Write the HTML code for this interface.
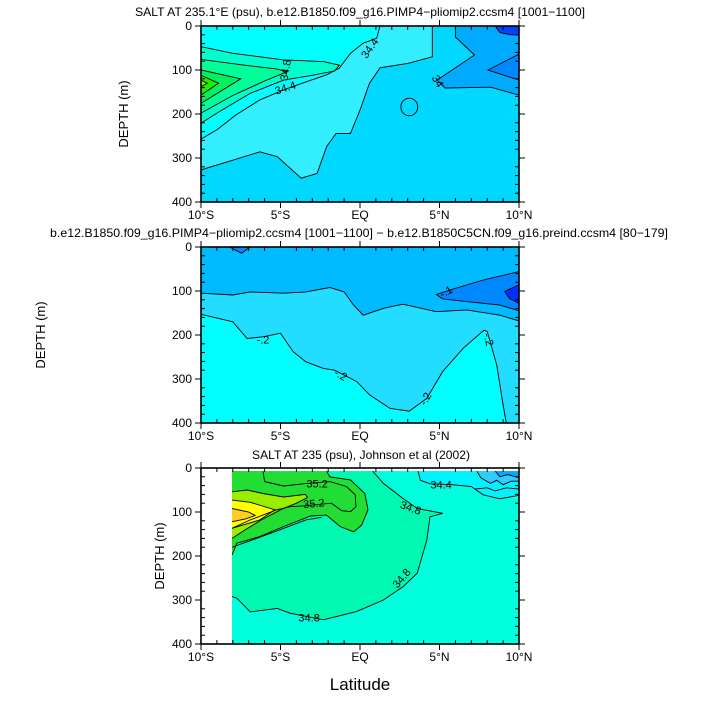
<!DOCTYPE html>
<html><head><meta charset="utf-8"><style>
html,body{margin:0;padding:0;background:#fff;}
svg{display:block;font-family:"Liberation Sans",sans-serif;}
</style></head><body>
<svg id="chart" width="701" height="701" viewBox="0 0 701 701">
<text x="360" y="16" text-anchor="middle" font-size="12" textLength="450" lengthAdjust="spacingAndGlyphs">SALT AT 235.1°E (psu), b.e12.B1850.f09_g16.PIMP4−pliomip2.ccsm4 [1001−1100]</text>
<text x="359" y="237" text-anchor="middle" font-size="12" textLength="618" lengthAdjust="spacingAndGlyphs">b.e12.B1850.f09_g16.PIMP4−pliomip2.ccsm4 [1001−1100] − b.e12.B1850C5CN.f09_g16.preind.ccsm4 [80−179]</text>
<text x="361" y="459" text-anchor="middle" font-size="12" textLength="218" lengthAdjust="spacingAndGlyphs">SALT AT 235 (psu), Johnson et al (2002)</text>
<text transform="translate(128,114) rotate(-90)" text-anchor="middle" font-size="13">DEPTH (m)</text>
<text transform="translate(45,335) rotate(-90)" text-anchor="middle" font-size="13">DEPTH (m)</text>
<text transform="translate(164,556) rotate(-90)" text-anchor="middle" font-size="13">DEPTH (m)</text>
<text x="360" y="690" text-anchor="middle" font-size="17">Latitude</text>
</svg>
<script>
const xTickLabels = ["10°S","5°S","EQ","5°N","10°N"];
const xTickValues = [-10,-5,0,5,10];
const yTickValues = [0,100,200,300,400];

// Panel 1 regions (lat, depth) — line = contour, close = extra fill corners
const p1Background = "#00d8ff";
const p1Regions = [
 {c:"#33eeff", line:[[-10,327],[-8,305],[-6.3,286],[-5.2,297],[-3.7,346],[-2.7,335],[-2.1,274],[-1.5,244],[-0.6,244],[0,191],[0.6,130],[1.26,95],[3,85],[4.55,70],[4.55,0]], close:[[-10,0]]},
 {c:"#00ffff", line:[[-10,257],[-9,236],[-7.8,202],[-6.3,168],[-4.8,145],[-3.4,127],[-2.1,111],[-1.3,96],[-0.6,62],[0.2,39],[1.05,28],[1.26,0]], close:[[-10,0]]},
 {c:"#00ffcc", line:[[-10,47],[-8,62],[-4.8,77],[-2.3,81],[-1.3,89],[-1.6,102],[-3,112],[-4.8,123],[-6.9,153],[-9,198],[-10,221]], close:[]},
 {c:"#00ff99", line:[[-10,76],[-7.5,88],[-5.2,98],[-4.6,104],[-6,125],[-8,158],[-10,198]], close:[]},
 {c:"#00f060", line:[[-10,100],[-7.5,120],[-10,176]], close:[]},
 {c:"#22ee00", line:[[-10,112],[-8.9,130],[-10,157]], close:[]},
 {c:"#77ff00", line:[[-10,123],[-9.6,130],[-10,138]], close:[]},
 {c:"#00aaff", line:[[6.0,0],[6.0,25],[7.2,66],[4.85,123],[5.35,141],[8.2,139],[10,157]], close:[[10,0]]},
 {c:"#0088ff", line:[[10,64],[8.05,100],[10,123]], close:[]},
 {c:"#0044ff", line:[[8.5,0],[8.8,15],[9.5,20],[10,20]], close:[[10,0]]}
];
const p1Ellipse = {lat:3.1, depth:184, rlat:0.53, rdepth:20};
const p1Labels = [{t:"34.8",lat:-4.7,d:100,r:-80},{t:"34.4",lat:-4.7,d:140,r:-18},{t:"34.4",lat:0.6,d:50,r:-55},{t:"34",lat:4.9,d:125,r:60}];

// Panel 2
const p2Background = "#00bbff";
const p2Regions = [
 {c:"#22ddff", line:[[-10,105],[-8,109],[-6.9,102],[-4.8,105],[-3.4,102],[-1.9,92],[-1,102],[-0.4,132],[0.2,155],[1.5,139],[2.7,130],[4.8,147],[6.7,143],[8.8,155],[10,168]], close:[[10,400],[-10,400]]},
 {c:"#00ffff", line:[[-10,153],[-8,170],[-7.1,208],[-6.1,204],[-5,196],[-4.2,238],[-3.4,261],[-2.3,276],[-1.6,280],[-0.2,306],[0.6,336],[1.9,367],[3.1,373],[4.2,344],[5.2,283],[6.5,230],[7.8,189],[8,192],[8.6,268],[9,359],[9.2,400]], close:[[-10,400]]},
 {c:"#0088ff", line:[[10,56],[7.75,75],[5.65,98],[4.8,108],[5.2,118],[6.7,124],[8.8,132],[10,145]], close:[]},
 {c:"#0030ff", line:[[10,86],[9.1,101],[9.4,117],[10,128]], close:[]},
 {c:"#0088ff", line:[[-8.2,0],[-7.45,14],[-6.9,0]], close:[]}
];
const p2Labels = [{t:"-.2",lat:-6.1,d:210,r:0},{t:"-.2",lat:-1.2,d:290,r:30},{t:"-.2",lat:4.1,d:345,r:-60},{t:"-.2",lat:8.1,d:210,r:75},{t:"-.1",lat:5.4,d:101,r:-30}];

// Panel 3
const p3Background = "#00ffdd";
const p3Data = {lat0:-8.05, d0:7};
const p3Regions = [
 {c:"#00f8b0", line:[[0.8,7],[1.47,35],[2.7,69],[3.6,92],[5.2,103],[4.4,111],[4.2,164],[3.6,239],[2.7,270],[1.47,300],[-0.2,326],[-2.3,345],[-4.4,330],[-5.2,319],[-6.9,327],[-7.75,296],[-8.05,292]], close:[[-8.05,7]]},
 {c:"#22dd33", line:[[-2.1,7],[-1.9,20],[-0.6,27],[0.3,58],[0.5,95],[0.1,130],[-0.4,145],[-1.25,133],[-2.1,107],[-3.1,109],[-4.8,133],[-6.3,156],[-7.75,171],[-8.05,198]], close:[[-8.05,7]]},
 {c:"#22dd33", line:[[-6.1,7],[-6,31],[-4.8,41],[-3.35,35],[-1.9,31],[-0.85,42],[-0.3,61],[-0.25,88],[-0.6,99],[-1.15,97],[-1.8,80],[-3.5,86],[-4.4,88],[-5.25,95],[-6.9,118],[-8.05,137]], close:[[-8.05,7]]},
 {c:"#99ee00", line:[[-8.05,54],[-7.1,50],[-6.1,58],[-4.8,66],[-3.45,60],[-3.3,67],[-4,80],[-5,95],[-6.2,118],[-7.2,140],[-8.05,160]], close:[]},
 {c:"#ffff00", line:[[-8.05,73],[-6.9,78],[-5.35,95],[-6.3,118],[-8.05,137]], close:[]},
 {c:"#ffcc22", line:[[-8.05,92],[-7,100],[-6.6,108],[-7.2,116],[-8.05,122]], close:[]},
 {c:"#00f4ff", line:[[3.65,7],[3.8,28],[4.4,36],[5.8,38],[7.0,42],[7.75,61],[8.8,70],[10,62]], close:[[10,7]]},
 {c:"#33ccff", line:[[7.35,7],[7.6,22],[8.2,35],[8.6,28],[9,38],[9.5,30],[10,30]], close:[[10,7]]},
 {c:"#00aaff", line:[[8.5,7],[8.8,20],[9.3,15],[10,22]], close:[[10,7]]}
];
const p3Lines = [
 [[-8.05,180],[-6.5,160],[-5,140],[-3.4,118],[-2.4,112]],
 [[7.2,48],[8,45],[8.5,52],[9.2,45],[10,48]]
];
const p3Labels = [{t:"35.2",lat:-2.7,d:35,r:0},{t:"35.2",lat:-2.9,d:80,r:-5},{t:"34.8",lat:3.2,d:90,r:20},{t:"34.8",lat:2.6,d:250,r:-50},{t:"34.8",lat:-3.2,d:340,r:0},{t:"34.4",lat:5.1,d:37,r:0}];

const panels = [
 {name:"panel1", top:26, bg:p1Background, regions:p1Regions, labels:p1Labels},
 {name:"panel2", top:247, bg:p2Background, regions:p2Regions, labels:p2Labels},
 {name:"panel3", top:468, bg:p3Background, regions:p3Regions, labels:p3Labels}
];
const X0=201, X1=519, PH=176;
const NS="http://www.w3.org/2000/svg";
const svg=document.getElementById('chart');
function mk(tag,attrs,parent){const e=document.createElementNS(NS,tag);for(const k in attrs)e.setAttribute(k,attrs[k]);(parent||svg).appendChild(e);return e;}

panels.forEach((p,pi)=>{
 const xs=lat=>X0+(lat+10)/20*(X1-X0);
 const ys=d=>p.top+d/400*PH;
 const pts=a=>a.map(q=>xs(q[0]).toFixed(1)+","+ys(q[1]).toFixed(1)).join(" ");
 const g=mk('g',{});
 
 
 const cid="clip"+pi;
 const cp=mk('clipPath',{id:cid},g);
 let bx=X0, by=p.top;
 if(pi===2){bx=xs(p3Data.lat0); by=ys(p3Data.d0);}
 mk('rect',{x:bx,y:by,width:X1-bx,height:p.top+PH-by},cp);
 const bg=mk('rect',{x:bx,y:by,width:X1-bx,height:p.top+PH-by,fill:p.bg},g);
 
 
 const cg=mk('g',{'clip-path':'url(#'+cid+')'},g);
 p.regions.forEach(r=>{
  const poly=mk('polygon',{points:pts(r.line.concat(r.close)),fill:r.c,stroke:'none'},cg);
  
  
 });
 p.regions.forEach(r=>{
  const pl=mk('polyline',{points:pts(r.line),fill:'none',stroke:'#000','stroke-width':0.9},cg);
  
  
 });
 if(pi===0){
  const el=mk('ellipse',{cx:xs(p1Ellipse.lat),cy:ys(p1Ellipse.depth),rx:(xs(p1Ellipse.rlat)-xs(0)),ry:(ys(p1Ellipse.rdepth)-ys(0)),fill:'none',stroke:'#000','stroke-width':0.9},cg);
  
  
 }
 if(pi===2){
  p3Lines.forEach(l=>{
   const pl=mk('polyline',{points:pts(l),fill:'none',stroke:'#000','stroke-width':0.9},cg);
   
   
  });
 }
 p.labels.forEach(l=>{
  const x=xs(l.lat), y=ys(l.d);
  const t=mk('text',{x:x,y:y+4,'text-anchor':'middle','font-size':11,transform:`rotate(${l.r} ${x} ${y})`},cg);
  t.textContent=l.t;
  
  
 });
 const fr=mk('rect',{x:X0,y:p.top,width:X1-X0,height:PH,fill:'none',stroke:'#000','stroke-width':1.6},g);
 
 
 for(let lat=-10;lat<=10;lat++){
  const x=xs(lat), major=(lat%5===0);
  mk('line',{x1:x,x2:x,y1:p.top+PH,y2:p.top+PH+(major?6:-4),stroke:'#000','stroke-width':1},g);
  mk('line',{x1:x,x2:x,y1:p.top,y2:p.top+(major?-6:4),stroke:'#000','stroke-width':1},g);
 }
 xTickValues.forEach((v,i)=>{
  const t=mk('text',{x:xs(v),y:p.top+PH+17,'text-anchor':'middle','font-size':12},g);
  t.textContent=xTickLabels[i];
  
  
 });
 for(let d=0;d<=400;d+=20){
  const y=ys(d), major=(d%100===0);
  mk('line',{x1:X0,x2:X0+(major?-6:4),y1:y,y2:y,stroke:'#000','stroke-width':1},g);
  mk('line',{x1:X1,x2:X1+(major?6:-4),y1:y,y2:y,stroke:'#000','stroke-width':1},g);
 }
 yTickValues.forEach(v=>{
  const t=mk('text',{x:X0-9,y:ys(v)+4,'text-anchor':'end','font-size':12},g);
  t.textContent=String(v);
  
  
 });
});
</script>
</body></html>
